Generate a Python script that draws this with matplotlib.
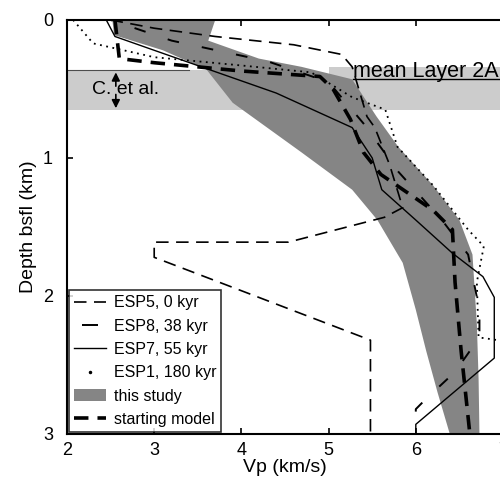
import numpy as np
import matplotlib
matplotlib.use("Agg")
import matplotlib.pyplot as plt
from matplotlib.patches import Patch
from matplotlib.lines import Line2D

plt.rcParams['font.family'] = ['Liberation Sans', 'DejaVu Sans']

# -----------------------------
# Data (Vp in km/s, depth in km)
# -----------------------------
esp5_vp = [2.50, 3.00, 3.70, 4.60, 5.15, 5.27, 5.44, 5.53, 5.70, 5.85, 5.64, 4.54, 3.00, 3.00, 5.48, 5.48]
esp5_z = [0.00, 0.06, 0.12, 0.18, 0.25, 0.34, 0.70, 0.78, 1.05, 1.36, 1.43, 1.61, 1.61, 1.72, 2.32, 3.00]

esp8_vp = [2.50, 3.20, 4.30, 5.00, 5.40, 5.80, 6.30, 6.60, 6.73, 6.73, 6.45, 6.11, 6.00, 6.00]
esp8_z = [0.00, 0.15, 0.30, 0.45, 0.75, 1.10, 1.45, 1.70, 2.10, 2.30, 2.55, 2.75, 2.82, 3.00]

esp7_vp = [2.45, 2.55, 3.00, 4.40, 5.27, 5.50, 5.61, 6.00, 6.42, 6.77, 6.90, 6.90, 6.00, 6.00]
esp7_z = [0.00, 0.12, 0.22, 0.53, 0.78, 1.00, 1.23, 1.45, 1.69, 1.86, 2.01, 2.45, 2.93, 3.00]

esp1_vp = [2.07, 2.30, 3.00, 4.00, 4.80, 5.27, 5.65, 5.79, 6.20, 6.60, 6.78, 6.70, 6.72, 7.05]
esp1_z = [0.00, 0.17, 0.27, 0.33, 0.38, 0.56, 0.65, 0.92, 1.20, 1.52, 1.64, 1.90, 2.30, 2.33]

start_vp = [2.55, 2.60, 3.00, 4.00, 4.90, 5.05, 5.25, 5.40, 5.60, 6.20, 6.42, 6.45, 6.52, 6.62]
start_z = [0.00, 0.28, 0.31, 0.37, 0.41, 0.50, 0.72, 0.96, 1.12, 1.38, 1.52, 1.90, 2.40, 3.00]

# this study: envelope of models
band_left_vp = [2.52, 2.54, 3.10, 3.60, 3.90, 4.69, 5.27, 5.56, 5.85, 6.00, 6.12, 6.25, 6.39]
band_left_z = [0.00, 0.11, 0.22, 0.36, 0.60, 0.96, 1.23, 1.45, 1.76, 2.10, 2.40, 2.70, 3.00]
band_right_vp = [3.70, 3.62, 4.20, 4.69, 5.27, 5.55, 5.80, 6.20, 6.50, 6.65, 6.70, 6.72, 6.73]
band_right_z = [0.00, 0.15, 0.28, 0.34, 0.43, 0.70, 0.92, 1.20, 1.45, 1.70, 2.20, 2.60, 3.00]

# layer 2A depth ranges
c_etal_vp = [2.0, 4.2]
c_etal_z = [0.36, 0.65]
mean2a_vp = [5.0, 7.0]
mean2a_z = [0.34, 0.65]

# -----------------------------
# Figure
# -----------------------------
fig = plt.figure(figsize=(5.0, 4.86), dpi=100)
ax = fig.add_axes([0.134, 0.107, 0.872, 0.852])

ax.fill_between(c_etal_vp, c_etal_z[0], c_etal_z[1], color='0.8', lw=0, zorder=1)
ax.fill_between(mean2a_vp, mean2a_z[0], mean2a_z[1], color='0.8', lw=0, zorder=1)
ax.plot(c_etal_vp[:1] + [3.4], [c_etal_z[0]] * 2, color='0.3', lw=0.8, zorder=2)

band_vp = band_left_vp + band_right_vp[::-1]
band_z = band_left_z + band_right_z[::-1]
ax.fill(band_vp, band_z, color='0.52', lw=0, zorder=2)

ax.plot(esp5_vp, esp5_z, color='k', lw=1.2, linestyle=(0, (7.5, 4.5)), zorder=3)
ax.plot(esp8_vp, esp8_z, color='k', lw=1.4, linestyle=(5, (6, 12)), zorder=3)
ax.plot(esp7_vp, esp7_z, color='k', lw=1.0, zorder=3)
ax.plot(esp1_vp, esp1_z, color='k', lw=1.3, linestyle=(0, (1, 2.5)), zorder=3)
ax.plot(start_vp, start_z, color='k', lw=2.6, linestyle=(0, (4, 2.5)), zorder=3)

# annotations
ax.text(2.29, 0.54, "C. et al.", fontsize=14, ha='left', va='baseline', zorder=5)
ax.annotate("", xy=(2.56, 0.36), xytext=(2.56, 0.50),
            arrowprops=dict(arrowstyle='-|>', color='k', lw=1.2, mutation_scale=12), zorder=5)
ax.annotate("", xy=(2.56, 0.66), xytext=(2.56, 0.52),
            arrowprops=dict(arrowstyle='-|>', color='k', lw=1.2, mutation_scale=12), zorder=5)
ax.text(5.28, 0.41, "mean Layer 2A", fontsize=15.5, ha='left', va='baseline', zorder=5)
ax.plot([5.28, 7.0], [0.43, 0.43], color='k', lw=1.0, zorder=5)

ax.set_xlim(2, 7)
ax.set_ylim(3, 0)
ax.set_xticks([2, 3, 4, 5, 6, 7])
ax.set_yticks([0, 1, 2, 3])
ax.tick_params(direction='in', length=4, width=1.2, labelsize=13, top=True, right=False)
ax.tick_params(axis='x', pad=6)
ax.tick_params(axis='y', pad=10)
for s in ax.spines.values():
    s.set_linewidth(1.5)
ax.set_xlabel("Vp (km/s)", fontsize=14, labelpad=0)
ax.set_ylabel("Depth bsfl (km)", fontsize=14, labelpad=4)

handles = [
    Line2D([], [], color='k', lw=1.2, linestyle=(0, (7.5, 4.5))),
    Line2D([], [], color='k', lw=0, marker='_', markersize=11, markeredgewidth=1.4),
    Line2D([], [], color='k', lw=1.0),
    Line2D([], [], color='k', lw=0, marker='.', markersize=3),
    Patch(facecolor='0.52', edgecolor='none'),
    Line2D([], [], color='k', lw=2.6, linestyle=(0, (4, 2.5))),
]
labels = ["ESP5, 0 kyr", "ESP8, 38 kyr", "ESP7, 55 kyr", "ESP1, 180 kyr",
          "this study", "starting model"]
leg = ax.legend(handles, labels, loc='lower left', bbox_to_anchor=(0.0, 0.0),
                fontsize=11.5, frameon=True, fancybox=False, edgecolor='k',
                borderaxespad=0.15, handlelength=2.0, handletextpad=0.5,
                labelspacing=0.52, borderpad=0.3, numpoints=1)
leg.get_frame().set_linewidth(1.2)
leg.set_zorder(6)

fig.savefig("out.png", dpi=100)
